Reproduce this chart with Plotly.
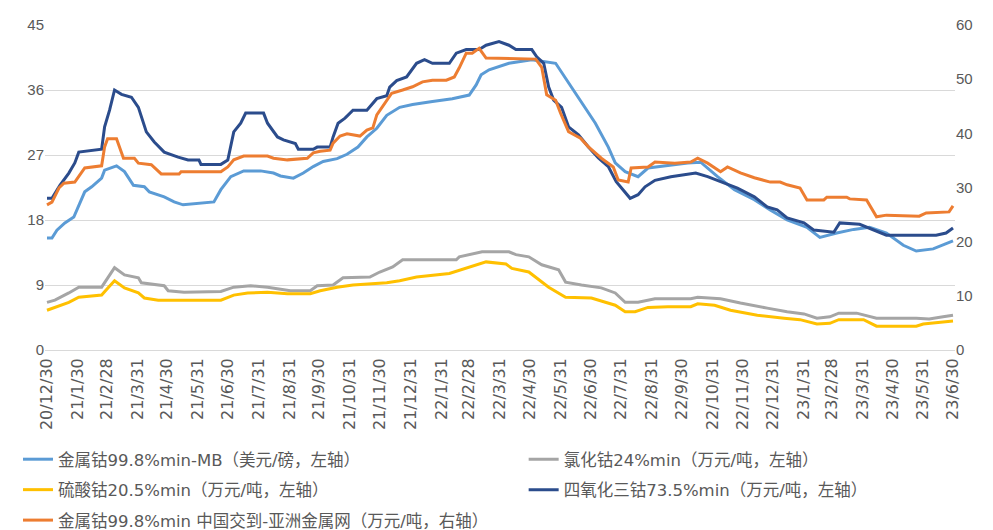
import plotly.graph_objects as go

# 月末刻度
tick_dates = [
    "2020-12-30", "2021-01-30", "2021-02-28", "2021-03-31", "2021-04-30", "2021-05-31",
    "2021-06-30", "2021-07-31", "2021-08-31", "2021-09-30", "2021-10-31", "2021-11-30",
    "2021-12-31", "2022-01-31", "2022-02-28", "2022-03-31", "2022-04-30", "2022-05-31",
    "2022-06-30", "2022-07-31", "2022-08-31", "2022-09-30", "2022-10-31", "2022-11-30",
    "2022-12-31", "2023-01-31", "2023-02-28", "2023-03-31", "2023-04-30", "2023-05-31",
    "2023-06-30",
]
tick_text = [
    "20/12/30", "21/1/30", "21/2/28", "21/3/31", "21/4/30", "21/5/31", "21/6/30", "21/7/31",
    "21/8/31", "21/9/30", "21/10/31", "21/11/30", "21/12/31", "22/1/31", "22/2/28", "22/3/31",
    "22/4/30", "22/5/31", "22/6/30", "22/7/31", "22/8/31", "22/9/30", "22/10/31", "22/11/30",
    "22/12/31", "23/1/31", "23/2/28", "23/3/31", "23/4/30", "23/5/31", "23/6/30",
]

# 金属钴99.8%min-MB（美元/磅，左轴）
mb_dates = [
    "2020-12-30", "2021-01-04", "2021-01-09", "2021-01-17", "2021-01-26", "2021-02-03",
    "2021-02-06", "2021-02-13", "2021-02-23", "2021-02-26", "2021-03-10", "2021-03-18",
    "2021-03-27", "2021-04-07", "2021-04-12", "2021-04-27", "2021-05-07", "2021-05-16",
    "2021-06-16", "2021-06-23", "2021-07-03", "2021-07-16", "2021-08-02", "2021-08-15",
    "2021-08-22", "2021-09-04", "2021-09-14", "2021-09-24", "2021-10-04", "2021-10-18",
    "2021-10-28", "2021-11-08", "2021-11-17", "2021-11-27", "2021-12-07", "2021-12-20",
    "2022-01-02", "2022-01-22", "2022-02-11", "2022-02-28", "2022-03-07", "2022-03-12",
    "2022-03-20", "2022-04-09", "2022-05-02", "2022-05-26", "2022-06-08", "2022-06-21",
    "2022-07-05", "2022-07-18", "2022-07-25", "2022-08-04", "2022-08-17", "2022-08-27",
    "2022-09-16", "2022-10-06", "2022-10-19", "2022-11-05", "2022-11-22", "2022-12-12",
    "2022-12-28", "2023-01-14", "2023-02-03", "2023-02-16", "2023-03-05", "2023-03-22",
    "2023-04-07", "2023-04-24", "2023-05-11", "2023-05-24", "2023-06-10", "2023-06-30",
]
mb_vals = [
    15.5, 15.5, 16.6, 17.6, 18.4, 20.8, 21.9, 22.6, 23.8, 24.9, 25.5, 24.7,
    22.8, 22.6, 21.9, 21.2, 20.5, 20.1, 20.5, 22.2, 24.0, 24.8, 24.8, 24.5,
    24.1, 23.8, 24.5, 25.4, 26.1, 26.5, 27.1, 28.1, 29.5, 30.7, 32.5, 33.6,
    34.0, 34.4, 34.8, 35.3, 36.7, 38.1, 38.8, 39.7, 40.2, 39.7, 37.0, 34.2,
    31.4, 28.1, 25.9, 24.7, 24.0, 25.2, 25.6, 25.9, 26.0, 24.0, 22.2, 20.8,
    19.4, 18.0, 17.0, 15.6, 16.2, 16.7, 17.0, 16.2, 14.5, 13.7, 14.0, 15.1,
]

# 氯化钴24%min（万元/吨，左轴）
cl_dates = [
    "2020-12-30", "2021-01-07", "2021-01-21", "2021-01-31", "2021-02-23", "2021-03-02",
    "2021-03-08", "2021-03-18", "2021-04-01", "2021-04-04", "2021-04-27", "2021-05-01",
    "2021-05-17", "2021-06-23", "2021-07-06", "2021-07-23", "2021-08-09", "2021-09-01",
    "2021-09-21", "2021-09-28", "2021-10-14", "2021-10-24", "2021-11-20", "2021-11-30",
    "2021-12-13", "2021-12-23", "2022-02-15", "2022-02-18", "2022-03-13", "2022-04-09",
    "2022-04-16", "2022-04-29", "2022-05-12", "2022-05-29", "2022-06-05", "2022-06-21",
    "2022-07-11", "2022-07-25", "2022-08-04", "2022-08-17", "2022-09-03", "2022-10-09",
    "2022-10-16", "2022-11-08", "2022-11-28", "2022-12-25", "2023-01-14", "2023-01-31",
    "2023-02-13", "2023-02-26", "2023-03-07", "2023-03-25", "2023-04-14", "2023-05-24",
    "2023-06-06", "2023-06-20", "2023-06-30",
]
cl_vals = [
    6.6, 6.9, 7.9, 8.7, 8.7, 10.1, 11.4, 10.4, 10.0, 9.3, 8.9, 8.2,
    8.0, 8.1, 8.7, 8.9, 8.7, 8.2, 8.2, 8.9, 9.0, 10.0, 10.1, 10.8,
    11.5, 12.5, 12.5, 12.9, 13.6, 13.6, 13.2, 12.9, 11.8, 11.1, 9.4, 9.0,
    8.6, 7.9, 6.6, 6.6, 7.1, 7.1, 7.3, 7.1, 6.5, 5.8, 5.3, 5.0,
    4.4, 4.6, 5.1, 5.1, 4.4, 4.4, 4.3, 4.6, 4.8,
]

# 硫酸钴20.5%min（万元/吨，左轴）
su_dates = [
    "2020-12-30", "2021-01-07", "2021-01-21", "2021-01-31", "2021-02-23", "2021-03-02",
    "2021-03-08", "2021-03-18", "2021-04-01", "2021-04-07", "2021-04-21", "2021-06-23",
    "2021-07-06", "2021-07-20", "2021-08-09", "2021-08-29", "2021-09-21", "2021-10-01",
    "2021-10-18", "2021-11-03", "2021-12-07", "2021-12-20", "2022-01-06", "2022-02-08",
    "2022-02-25", "2022-03-17", "2022-04-06", "2022-04-12", "2022-04-29", "2022-05-19",
    "2022-06-05", "2022-07-01", "2022-07-25", "2022-08-04", "2022-08-14", "2022-08-27",
    "2022-09-16", "2022-10-09", "2022-10-16", "2022-11-02", "2022-11-18", "2022-12-15",
    "2023-01-11", "2023-01-27", "2023-02-13", "2023-02-26", "2023-03-07", "2023-04-01",
    "2023-04-14", "2023-05-24", "2023-05-31", "2023-06-23", "2023-06-30",
]
su_vals = [
    5.5, 5.9, 6.6, 7.3, 7.6, 8.7, 9.6, 8.6, 7.9, 7.2, 6.9, 6.9,
    7.6, 7.9, 8.0, 7.8, 7.8, 8.2, 8.7, 9.0, 9.3, 9.6, 10.1, 10.6,
    11.3, 12.2, 11.9, 11.3, 10.8, 8.7, 7.3, 7.2, 6.2, 5.3, 5.3, 5.9,
    6.0, 6.0, 6.4, 6.2, 5.5, 4.8, 4.4, 4.2, 3.6, 3.7, 4.2, 4.2,
    3.3, 3.3, 3.6, 3.9, 4.0,
]

# 四氧化三钴73.5%min（万元/吨，左轴）
ox_dates = [
    "2020-12-30", "2021-01-04", "2021-01-12", "2021-01-21", "2021-01-27", "2021-01-31",
    "2021-02-23", "2021-02-26", "2021-03-03", "2021-03-08", "2021-03-15", "2021-03-25",
    "2021-04-01", "2021-04-09", "2021-04-17", "2021-04-27", "2021-05-11", "2021-05-21",
    "2021-06-01", "2021-06-03", "2021-06-23", "2021-06-30", "2021-07-06", "2021-07-13",
    "2021-07-18", "2021-08-05", "2021-08-09", "2021-08-19", "2021-08-25", "2021-09-06",
    "2021-09-09", "2021-09-24", "2021-09-28", "2021-10-11", "2021-10-14", "2021-10-19",
    "2021-10-26", "2021-11-03", "2021-11-17", "2021-11-27", "2021-12-07", "2021-12-10",
    "2021-12-17", "2021-12-27", "2022-01-06", "2022-01-14", "2022-01-22", "2022-02-08",
    "2022-02-15", "2022-02-25", "2022-03-10", "2022-03-17", "2022-03-30", "2022-04-09",
    "2022-04-16", "2022-05-02", "2022-05-07", "2022-05-14", "2022-05-19", "2022-05-24",
    "2022-06-01", "2022-06-08", "2022-06-18", "2022-06-28", "2022-07-08", "2022-07-18",
    "2022-07-26", "2022-08-04", "2022-08-09", "2022-08-17", "2022-08-24", "2022-09-03",
    "2022-09-19", "2022-09-29", "2022-10-14", "2022-10-26", "2022-11-08", "2022-11-25",
    "2022-12-12", "2022-12-25", "2023-01-04", "2023-01-14", "2023-01-31", "2023-02-10",
    "2023-03-02", "2023-03-08", "2023-03-28", "2023-04-11", "2023-04-24", "2023-05-24",
    "2023-06-13", "2023-06-23", "2023-06-30",
]
ox_vals = [
    21.0, 21.0, 22.8, 24.5, 25.9, 27.4, 27.8, 30.9, 33.2, 36.0, 35.4, 35.0,
    33.6, 30.2, 28.8, 27.4, 26.7, 26.3, 26.3, 25.7, 25.7, 26.3, 30.2, 31.4,
    32.8, 32.8, 31.4, 29.5, 29.1, 28.6, 27.8, 27.8, 28.1, 28.1, 29.5, 31.4,
    32.1, 33.2, 33.2, 34.8, 35.2, 36.4, 37.3, 37.8, 39.7, 40.2, 39.7, 39.7,
    41.1, 41.6, 41.6, 42.2, 42.7, 42.2, 41.6, 41.6, 40.6, 39.7, 36.4, 34.6,
    33.6, 30.9, 29.8, 28.1, 26.6, 25.4, 23.3, 21.9, 21.0, 21.5, 22.6, 23.5,
    24.0, 24.2, 24.5, 24.0, 23.3, 22.4, 21.2, 19.8, 19.4, 18.3, 17.6, 16.6,
    16.3, 17.6, 17.4, 16.6, 15.9, 15.9, 15.9, 16.2, 16.9,
]

# 金属钴99.8%min 中国交到-亚洲金属网（万元/吨，右轴）
cn_dates = [
    "2020-12-30", "2021-01-04", "2021-01-11", "2021-01-16", "2021-01-27", "2021-02-03",
    "2021-02-06", "2021-02-23", "2021-02-26", "2021-03-01", "2021-03-10", "2021-03-17",
    "2021-03-28", "2021-04-01", "2021-04-14", "2021-04-24", "2021-05-12", "2021-05-14",
    "2021-06-23", "2021-06-30", "2021-07-06", "2021-07-16", "2021-08-09", "2021-08-15",
    "2021-08-29", "2021-09-18", "2021-09-24", "2021-10-01", "2021-10-11", "2021-10-14",
    "2021-10-21", "2021-10-28", "2021-11-10", "2021-11-17", "2021-11-23", "2021-11-27",
    "2021-12-07", "2021-12-12", "2021-12-23", "2022-01-02", "2022-01-12", "2022-01-22",
    "2022-02-05", "2022-02-13", "2022-02-18", "2022-02-25", "2022-03-03", "2022-03-10",
    "2022-03-17", "2022-05-06", "2022-05-12", "2022-05-17", "2022-05-26", "2022-05-31",
    "2022-06-08", "2022-06-20", "2022-06-28", "2022-07-11", "2022-07-23", "2022-07-28",
    "2022-08-07", "2022-08-10", "2022-08-27", "2022-09-03", "2022-09-23", "2022-10-09",
    "2022-10-16", "2022-10-26", "2022-11-08", "2022-11-15", "2022-11-28", "2022-12-12",
    "2022-12-28", "2023-01-07", "2023-01-14", "2023-01-27", "2023-02-03", "2023-02-20",
    "2023-02-23", "2023-03-15", "2023-03-18", "2023-04-04", "2023-04-14", "2023-04-24",
    "2023-05-27", "2023-06-03", "2023-06-26", "2023-06-30",
]
cn_vals = [
    26.8, 27.3, 29.9, 30.8, 31.0, 32.7, 33.6, 34.0, 37.5, 39.0, 39.0, 35.4,
    35.4, 34.5, 34.2, 32.5, 32.5, 32.9, 32.9, 33.8, 35.1, 35.8, 35.8, 35.4,
    35.1, 35.4, 36.4, 36.7, 36.9, 38.2, 39.5, 39.9, 39.5, 40.6, 41.0, 43.4,
    46.1, 47.4, 48.0, 48.6, 49.5, 49.8, 49.8, 50.4, 52.1, 54.8, 54.8, 55.7,
    53.9, 53.7, 52.2, 47.1, 46.1, 43.7, 40.3, 39.1, 37.5, 35.4, 33.8, 31.4,
    31.0, 33.6, 33.8, 34.7, 34.5, 34.7, 35.4, 34.5, 32.9, 33.8, 32.7, 31.8,
    31.0, 31.0, 30.5, 29.9, 27.7, 27.7, 28.2, 28.2, 27.9, 27.7, 24.6, 24.9,
    24.7, 25.3, 25.5, 26.6,
]

TXT = "#595959"
LEG_FONT = "DejaVu Sans, Noto Sans CJK SC, sans-serif"

series = [
    # 名称, 日期, 数值, 颜色, 轴, 图例, 图例顺序  (按绘制顺序)
    ("金属钴99.8%min-MB（美元/磅，左轴）", mb_dates, mb_vals, "#5B9BD5", "y", "legend", 1),
    ("氯化钴24%min（万元/吨，左轴）", cl_dates, cl_vals, "#A5A5A5", "y", "legend2", 1),
    ("硫酸钴20.5%min（万元/吨，左轴）", su_dates, su_vals, "#FFC000", "y", "legend", 2),
    ("四氧化三钴73.5%min（万元/吨，左轴）", ox_dates, ox_vals, "#2B4C8C", "y", "legend2", 2),
    ("金属钴99.8%min 中国交到-亚洲金属网（万元/吨，右轴）", cn_dates, cn_vals, "#ED7D31", "y2", "legend", 3),
]

fig = go.Figure()
for i, (name, xs, ys, color, ax, leg, rank) in enumerate(series):
    fig.add_trace(go.Scatter(
        x=xs, y=ys, mode="lines", name=name, yaxis=ax,
        legend=leg, legendrank=rank, legendgroup=f"g{i}",
        line=dict(color=color, width=3),
    ))

legend_style = dict(
    orientation="v", y=-0.283, yanchor="top", xanchor="left",
    font=dict(family=LEG_FONT, size=16.5, color=TXT),
    bgcolor="rgba(0,0,0,0)", tracegroupgap=6,
)

# 页面自带 8px 边距，画布尺寸相应缩小
fig.update_layout(
    width=985, height=522,
    margin=dict(l=37, r=38, t=17, b=180, autoexpand=False),
    paper_bgcolor="white", plot_bgcolor="white",
    font=dict(family="DejaVu Sans, sans-serif", color=TXT, size=13),
    xaxis=dict(
        type="date", range=["2020-12-28", "2023-07-02"],
        tickvals=tick_dates, ticktext=tick_text, tickangle=-90,
        tickfont=dict(family="DejaVu Sans, sans-serif", size=16, color=TXT),
        showgrid=False, showline=False, ticks="", ticklabelstandoff=4,
    ),
    yaxis=dict(
        range=[0, 45], dtick=9, tick0=0,
        showgrid=True, gridcolor="#D9D9D9", gridwidth=1,
        zeroline=True, zerolinecolor="#D9D9D9", zerolinewidth=1,
        tickfont=dict(family="Liberation Sans, sans-serif", size=15, color=TXT),
        ticks="", showline=False,
    ),
    yaxis2=dict(
        range=[0, 60], dtick=10, tick0=0, overlaying="y", side="right",
        showgrid=False, zeroline=False,
        tickfont=dict(family="Liberation Sans, sans-serif", size=15, color=TXT),
        ticks="", showline=False,
    ),
    legend=dict(legend_style, x=-0.0297),
    legend2=dict(legend_style, x=0.526),
)

fig.write_html("out.html")
